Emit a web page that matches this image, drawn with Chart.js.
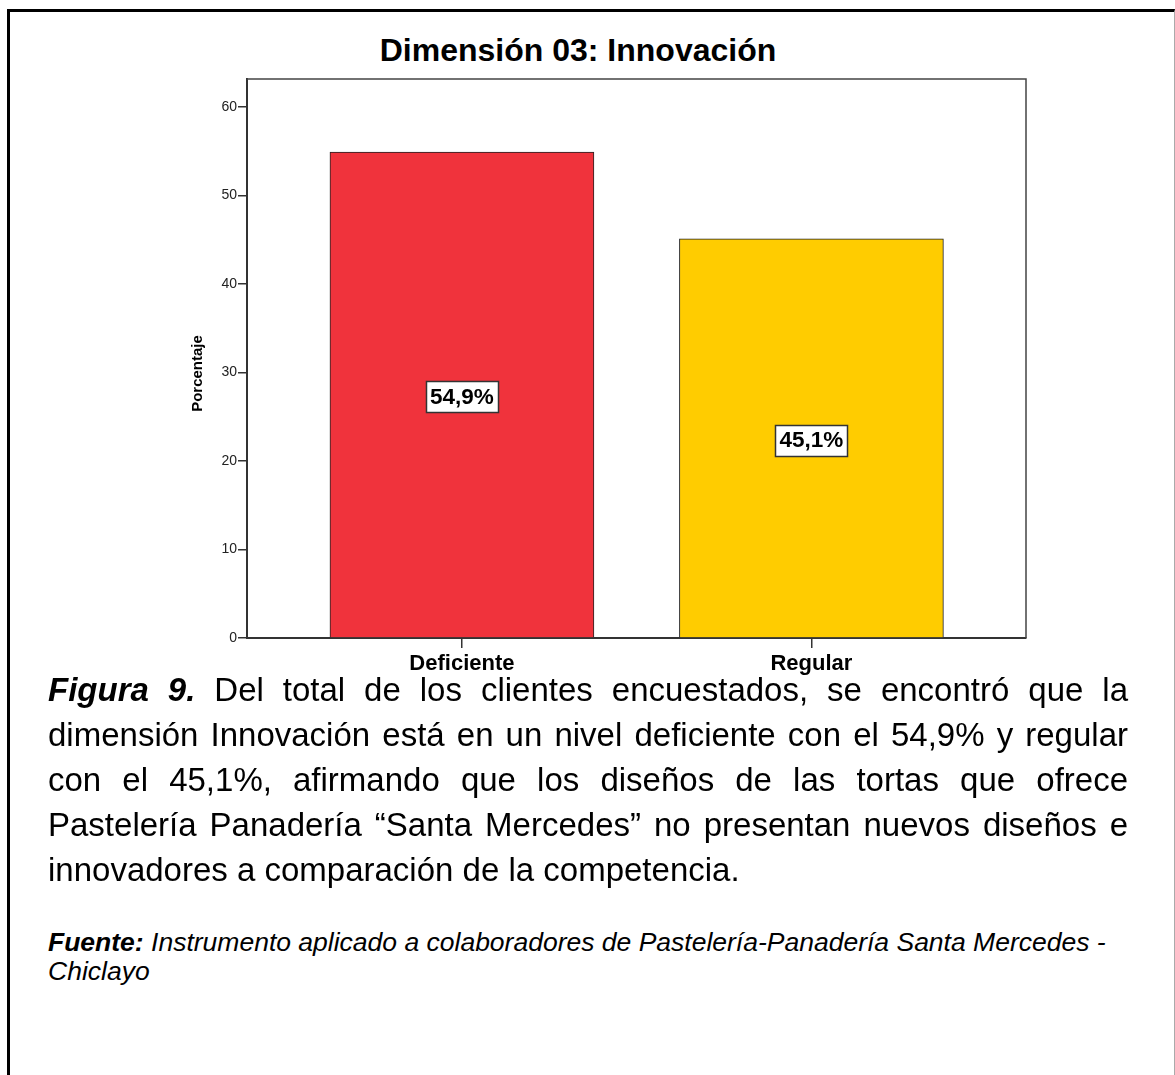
<!DOCTYPE html>
<html lang="es">
<head>
<meta charset="utf-8">
<title>Dimensión 03: Innovación</title>
<script src="https://cdn.jsdelivr.net/npm/chart.js@4.4.1/dist/chart.umd.min.js"></script>
<style>
  html, body { margin: 0; padding: 0; background: #fff; }
  body {
    width: 1175px; height: 1075px; position: relative; overflow: hidden;
    font-family: "Liberation Sans", Arial, sans-serif; color: #000;
  }
  #frame {
    position: absolute; left: 7px; top: 9px; width: 1168px; height: 1100px;
    box-sizing: border-box;
    border-left: 3px solid #000; border-top: 3px solid #000; border-right: 1px solid #aaa;
  }
  #title {
    position: absolute; left: 0; top: 30px; width: 1156px;
    text-align: center; font-weight: bold; font-size: 32px; line-height: 40px;
  }
  #chart { position: absolute; left: 0; top: 60px; }
  #caption {
    position: absolute; left: 48px; top: 667px; width: 1080px;
    font-size: 33px; line-height: 45px;
  }
  #caption .l { text-align: justify; text-align-last: justify; white-space: nowrap; }
  #caption .l.last { text-align-last: left; }
  #source {
    position: absolute; left: 48px; top: 928px;
    font-size: 26.5px; line-height: 29px; font-style: italic;
  }
</style>
</head>
<body>
<div id="frame"></div>
<div id="title">Dimensión 03: Innovación</div>
<canvas id="chart" width="1175" height="620"></canvas>
<div id="caption">
  <div class="l"><b><i>Figura 9.</i></b> Del total de los clientes encuestados, se encontró que la</div>
  <div class="l">dimensión Innovación está en un nivel deficiente con el 54,9% y regular</div>
  <div class="l">con el 45,1%, afirmando que los diseños de las tortas que ofrece</div>
  <div class="l">Pastelería Panadería “Santa Mercedes” no presentan nuevos diseños e</div>
  <div class="l last">innovadores a comparación de la competencia.</div>
</div>
<div id="source"><b>Fuente:</b> Instrumento aplicado a colaboradores de Pastelería-Panadería Santa Mercedes -<br>Chiclayo</div>

<script>
// Survey result: level of the "Innovación" dimension
const categories = ['Deficiente', 'Regular'];
const percentages = [54.9, 45.1];
const barColors = ['#F0333C', '#FFCC00'];
const yTickValues = [0, 10, 20, 30, 40, 50, 60];
const yAxisTitle = 'Porcentaje';

const FONT = '"Liberation Sans", Arial, sans-serif';
const fmtPct = v => v.toFixed(1).replace('.', ',') + '%';

// Thin box closing the plot area on the top and right sides
const plotFrame = {
  id: 'plotFrame',
  beforeDatasetsDraw(chart) {
    const { ctx, chartArea: a } = chart;
    ctx.save();
    ctx.strokeStyle = '#444';
    ctx.lineWidth = 1.5;
    ctx.beginPath();
    ctx.moveTo(a.left, a.top);
    ctx.lineTo(a.right, a.top);
    ctx.lineTo(a.right, a.bottom);
    ctx.stroke();
    ctx.restore();
  }
};

// Boxed percentage label at the middle of each bar
const valueBoxes = {
  id: 'valueBoxes',
  afterDatasetsDraw(chart) {
    const { ctx } = chart;
    const meta = chart.getDatasetMeta(0);
    ctx.save();
    ctx.font = 'bold 22.5px ' + FONT;
    ctx.textAlign = 'center';
    ctx.textBaseline = 'middle';
    meta.data.forEach((bar, i) => {
      const { x, y, base } = bar.getProps(['x', 'y', 'base'], true);
      const cy = (y + base) / 2 + 2;
      const text = fmtPct(percentages[i]);
      const w = Math.round(ctx.measureText(text).width + 8);
      const h = 31;
      const bx = Math.round(x - w / 2) + 0.5;
      const by = Math.round(cy - h / 2) + 0.5;
      ctx.fillStyle = '#fff';
      ctx.fillRect(bx, by, w, h);
      ctx.strokeStyle = '#333';
      ctx.lineWidth = 1.5;
      ctx.strokeRect(bx, by, w, h);
      ctx.fillStyle = '#000';
      ctx.fillText(text, x, cy + 1);
    });
    ctx.restore();
  }
};

// Rotated y-axis title
const yTitle = {
  id: 'yTitle',
  afterDraw(chart) {
    const { ctx, chartArea: a } = chart;
    ctx.save();
    ctx.translate(a.left - 49, (a.top + a.bottom) / 2 + 15);
    ctx.rotate(-Math.PI / 2);
    ctx.font = 'bold 15px ' + FONT;
    ctx.fillStyle = '#000';
    ctx.textAlign = 'center';
    ctx.textBaseline = 'middle';
    ctx.fillText(yAxisTitle, 0, 0);
    ctx.restore();
  }
};

new Chart(document.getElementById('chart'), {
  type: 'bar',
  data: {
    datasets: [{
      data: categories.map((c, i) => ({ x: i + 1, y: percentages[i] })),
      backgroundColor: barColors,
      borderColor: '#222',
      borderWidth: 1,
      barThickness: 264
    }]
  },
  options: {
    responsive: false,
    animation: false,
    layout: { padding: { top: 19, right: 149, left: 0, bottom: 0 } },
    plugins: { legend: { display: false }, tooltip: { enabled: false } },
    scales: {
      x: {
        type: 'linear',
        min: 0.385,
        max: 2.614,
        offset: false,
        afterBuildTicks: s => { s.ticks = categories.map((_, i) => ({ value: i + 1 })); },
        afterFit: s => { s.height = 42; },
        grid: { offset: false, drawOnChartArea: false, drawTicks: true, tickLength: 10, color: '#333', lineWidth: 1.5 },
        border: { display: true, color: '#333', width: 2 },
        ticks: {
          callback: v => categories[v - 1],
          color: '#000',
          font: { family: FONT, size: 22, weight: 'bold' },
          padding: 3,
          maxRotation: 0,
          autoSkip: false
        }
      },
      y: {
        min: 0,
        max: 63.16,
        afterBuildTicks: s => { s.ticks = yTickValues.map(v => ({ value: v })); },
        afterFit: s => { s.width = 247; },
        grid: { drawOnChartArea: false, drawTicks: true, tickLength: 9, color: '#333', lineWidth: 1.5 },
        border: { display: true, color: '#333', width: 2 },
        ticks: { color: '#222', font: { family: FONT, size: 14 }, padding: 1 }
      }
    }
  },
  plugins: [plotFrame, valueBoxes, yTitle]
});
</script>
</body>
</html>
